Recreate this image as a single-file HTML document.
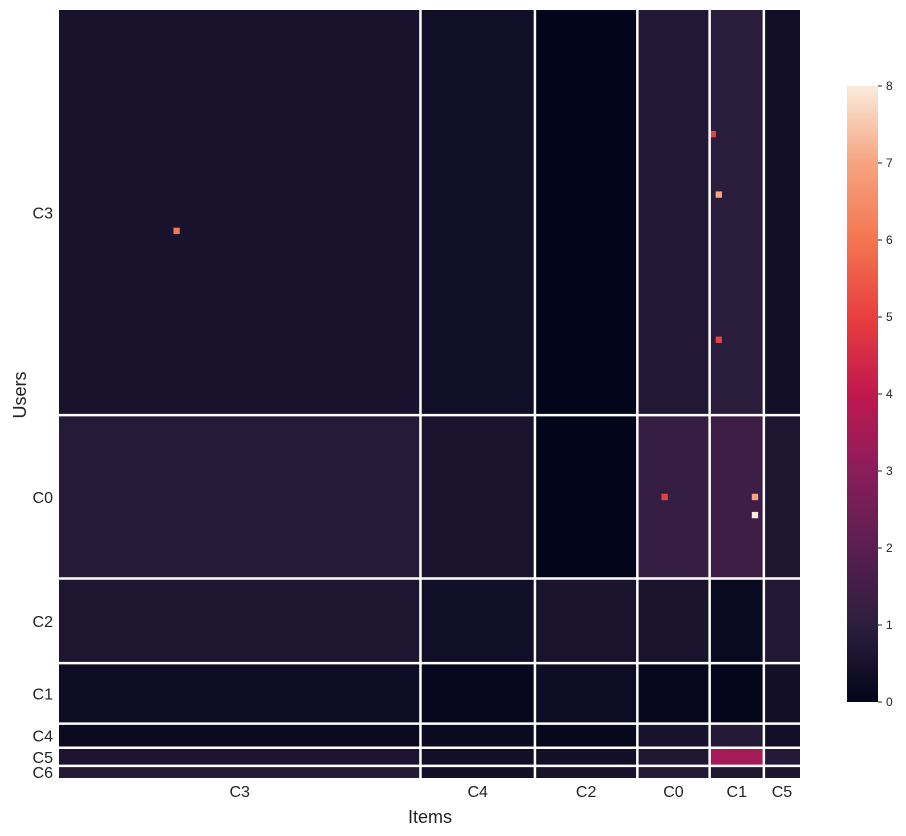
<!DOCTYPE html>
<html><head><meta charset="utf-8"><style>
body{margin:0;background:#fff;}
svg{display:block;font-family:"Liberation Sans",sans-serif;}
</style></head><body>
<svg id="chart" width="906" height="836"></svg>
<script>
const rowGroups=["C3","C0","C2","C1","C4","C5","C6"];
const rowCounts=[67,27,14,10,4,3,2];
const colGroups=["C3","C4","C2","C0","C1","C5"];
const colCounts=[60,19,17,12,9,6];
// mean interaction value per (user cluster, item cluster) block
const blockMeans=[
 [0.5,0.35,0.0,0.75,0.95,0.4],
 [0.85,0.55,0.0,1.2,1.4,0.65],
 [0.65,0.35,0.55,0.55,0.15,0.75],
 [0.3,0.1,0.3,0.1,0.05,0.4],
 [0.2,0.2,0.1,0.5,0.8,0.4],
 [0.6,0.4,0.4,0.7,3.5,0.8],
 [0.8,0.4,0.5,0.8,0.7,0.6]];
// notable individual hot cells: [row, col, value]
const hotCells=[[36,19,6],[30,109,7],[54,109,5],[20,108,5],[80,115,7],[83,115,8],[80,100,5]];
const cbTicks=[0,1,2,3,4,5,6,7,8];
const vmax=8;
const X0=59,X1=800,Y0=10,Y1=778;
const nCols=colCounts.reduce((a,b)=>a+b,0),nRows=rowCounts.reduce((a,b)=>a+b,0);
const cw=(X1-X0)/nCols,ch=(Y1-Y0)/nRows;
const xs=c=>X0+c*cw, ys=r=>Y0+r*ch;
const stops=[[0,[3,5,26]],[0.125,[44,30,62]],[0.25,[90,30,81]],[0.375,[138,29,91]],[0.5,[192,24,79]],[0.625,[232,63,63]],[0.75,[243,118,81]],[0.875,[246,164,126]],[1,[250,235,221]]];
function color(v){let t=Math.max(0,Math.min(1,v/vmax));for(let i=1;i<stops.length;i++){if(t<=stops[i][0]){const a=stops[i-1],b=stops[i];const f=(t-a[0])/(b[0]-a[0]);const c=a[1].map((x,k)=>Math.round(x+(b[1][k]-x)*f));return `rgb(${c})`;}}return 'rgb(250,235,221)';}
const NS="http://www.w3.org/2000/svg",svg=document.getElementById('chart');
function el(t,a,p){const e=document.createElementNS(NS,t);for(const k in a)e.setAttribute(k,a[k]);(p||svg).appendChild(e);return e;}
const cum=a=>{let s=[0];a.forEach(v=>s.push(s[s.length-1]+v));return s;};
const rc=cum(rowCounts),cc=cum(colCounts);
for(let i=0;i<rowGroups.length;i++)for(let j=0;j<colGroups.length;j++){
 const r=el('rect',{x:xs(cc[j]),y:ys(rc[i]),width:xs(cc[j+1])-xs(cc[j]),height:ys(rc[i+1])-ys(rc[i]),fill:color(blockMeans[i][j])});
 
 
}
hotCells.forEach(h=>{const r=el('rect',{x:xs(h[1]),y:ys(h[0]),width:cw+0.3,height:ch+0.3,fill:color(h[2])});
 
 });
for(let i=1;i<rowGroups.length;i++){const l=el('line',{x1:X0,x2:X1,y1:ys(rc[i]),y2:ys(rc[i]),stroke:'#fff','stroke-width':2.5});
 
 }
for(let j=1;j<colGroups.length;j++){const l=el('line',{y1:Y0,y2:Y1,x1:xs(cc[j]),x2:xs(cc[j]),stroke:'#fff','stroke-width':2.5});
 
 }
rowGroups.forEach((g,i)=>{const t=el('text',{x:53,y:(ys(rc[i])+ys(rc[i+1]))/2+6,'text-anchor':'end','font-size':16,fill:'#222'});t.textContent=g;
 
 });
colGroups.forEach((g,j)=>{const t=el('text',{x:(xs(cc[j])+xs(cc[j+1]))/2,y:797,'text-anchor':'middle','font-size':16,fill:'#222'});t.textContent=g;
 
 });
let t=el('text',{x:430,y:823,'text-anchor':'middle','font-size':18,fill:'#222'});t.textContent='Items';


t=el('text',{x:26,y:395,'text-anchor':'middle','font-size':18,fill:'#222',transform:'rotate(-90 26 395)'});t.textContent='Users';


// colorbar
const CB={x:847,w:31,top:86,bot:702};
const cbY=v=>CB.bot-(v/vmax)*(CB.bot-CB.top);
const defs=el('defs',{});const lg=el('linearGradient',{id:'cbg',x1:0,y1:1,x2:0,y2:0},defs);
stops.forEach(s=>el('stop',{offset:s[0],'stop-color':`rgb(${s[1]})`},lg));
const cb=el('rect',{x:CB.x,y:CB.top,width:CB.w,height:CB.bot-CB.top,fill:'url(#cbg)'});


cbTicks.forEach(v=>{el('line',{x1:CB.x+CB.w,x2:CB.x+CB.w+4,y1:cbY(v),y2:cbY(v),stroke:'#222'});
 const tt=el('text',{x:CB.x+CB.w+8,y:cbY(v)+4,'font-size':12,fill:'#222'});tt.textContent=v;
 
 });
</script>
</body></html>
